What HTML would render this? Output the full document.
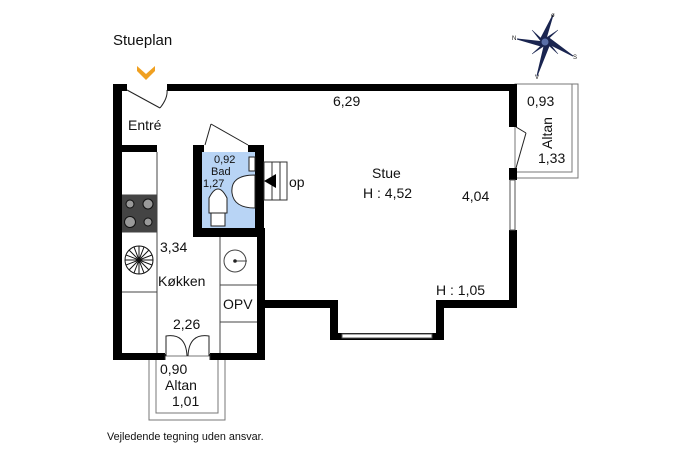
<!DOCTYPE html>
<html><head><meta charset="utf-8"><style>
html,body{margin:0;padding:0;background:#fff;}
svg{display:block;}
text{font-family:"Liberation Sans",Arial,sans-serif;fill:#111;}
</style></head><body>
<svg width="687" height="457" viewBox="0 0 687 457" xmlns="http://www.w3.org/2000/svg">
<rect x="515" y="84" width="63" height="94" fill="none" stroke="#777" stroke-width="1"/>
<rect x="515" y="84" width="57" height="88" fill="none" stroke="#777" stroke-width="1"/>
<rect x="149" y="356" width="76" height="64" fill="none" stroke="#777" stroke-width="1"/>
<rect x="156" y="356" width="62" height="57" fill="none" stroke="#777" stroke-width="1"/>
<rect x="201" y="152" width="54" height="76" fill="#b8d4f5"/>
<g fill="#000">
<rect x="113" y="84" width="9" height="276"/>
<rect x="113" y="84" width="14" height="7"/>
<rect x="167" y="84" width="350" height="7"/>
<rect x="509" y="84" width="8" height="43"/>
<rect x="509" y="168" width="8" height="12"/>
<rect x="509" y="230" width="8" height="78"/>
<rect x="436" y="300" width="81" height="8"/>
<rect x="436" y="300" width="8" height="40"/>
<rect x="330" y="333" width="114" height="7"/>
<rect x="330" y="300" width="8" height="40"/>
<rect x="257" y="300" width="81" height="8"/>
<rect x="257" y="228" width="8" height="132"/>
<rect x="113" y="353" width="52" height="7"/>
<rect x="210" y="353" width="55" height="7"/>
<rect x="121" y="145" width="36" height="7"/>
<rect x="193" y="145" width="9" height="92"/>
<rect x="255" y="145" width="9" height="92"/>
<rect x="193" y="228" width="71" height="9"/>
<rect x="193" y="145" width="11" height="7"/>
<rect x="248" y="145" width="16" height="7"/>
</g>
<rect x="510" y="180" width="5" height="50" fill="#fff" stroke="#555" stroke-width="1"/>
<rect x="342" y="334" width="90" height="4" fill="#fff" stroke="#555" stroke-width="1"/>
<g fill="none" stroke="#222" stroke-width="1">
<line x1="127" y1="90" x2="160" y2="108"/>
<path d="M160 108 Q168 98 167 90"/>
<line x1="205" y1="145" x2="211" y2="124"/>
<path d="M211 124 L248 145"/>
<line x1="516" y1="127" x2="526" y2="133"/>
<line x1="526" y1="133" x2="516" y2="168"/>
<path d="M166 356 V336 Q186 333 187 356"/>
<path d="M209 356 V336 Q189 333 188 356"/>
<line x1="165" y1="354" x2="165" y2="360"/>
<line x1="210" y1="354" x2="210" y2="360"/>
</g>
<g fill="none" stroke="#444" stroke-width="1">
<line x1="157" y1="152" x2="157" y2="353"/>
<line x1="122" y1="195" x2="157" y2="195"/>
<line x1="122" y1="232" x2="157" y2="232"/>
<line x1="122" y1="292" x2="157" y2="292"/>
<line x1="220" y1="237" x2="220" y2="353"/>
<line x1="220" y1="285" x2="257" y2="285"/>
<line x1="220" y1="322" x2="257" y2="322"/>
<circle cx="235" cy="261" r="11"/>
<line x1="235" y1="261" x2="247" y2="261"/>
</g>
<circle cx="235" cy="261" r="1.8" fill="#222"/>
<rect x="122" y="195" width="35" height="37" fill="#444"/>
<circle cx="130" cy="204" r="4" fill="#999" stroke="#111"/>
<circle cx="148" cy="204" r="5" fill="#999" stroke="#111"/>
<circle cx="130" cy="222" r="5.5" fill="#999" stroke="#111"/>
<circle cx="148" cy="222" r="4" fill="#999" stroke="#111"/>
<g stroke="#111" stroke-width="1" fill="none">
<circle cx="139" cy="260" r="14"/>
<line x1="125" y1="260" x2="153" y2="260"/><line x1="139" y1="246" x2="139" y2="274"/>
<line x1="129" y1="250" x2="149" y2="270"/><line x1="149" y1="250" x2="129" y2="270"/>
<line x1="134" y1="247" x2="144" y2="273"/><line x1="144" y1="247" x2="134" y2="273"/>
<line x1="126" y1="255" x2="152" y2="265"/><line x1="126" y1="265" x2="152" y2="255"/>
</g>
<g fill="#fff" stroke="#222" stroke-width="1">
<path d="M209 213 L209 198 Q218 180 227 198 L227 213 Z"/>
<rect x="211" y="213" width="14" height="13"/>
<path d="M255 175 Q230 175 232 193 Q234 208 255 208 Z"/>
<rect x="249" y="157" width="6" height="14"/>
</g>
<g fill="none" stroke="#333" stroke-width="1">
<rect x="264" y="162" width="23" height="38"/>
<line x1="272" y1="162" x2="272" y2="200"/>
<line x1="280" y1="162" x2="280" y2="200"/>
</g>
<polygon points="264,181 276,174 276,188" fill="#000"/>
<polygon points="137,66 146,74 155,66 155,71 146,80 137,71" fill="#f0a020"/>
<g stroke="#1a2550" fill="#1a2550">
<polygon points="517,39 545,42 541,46" /><polygon points="573,56 545,42 549,38"/>
<polygon points="553,15 545,42 541,38"/><polygon points="537,76 545,42 549,46"/>
<polygon points="532,30 545,42 543,44" stroke-width="0.5"/><polygon points="558,54 545,42 547,40" stroke-width="0.5"/>
<polygon points="558,30 545,42 543,40" stroke-width="0.5"/><polygon points="532,54 545,42 547,44" stroke-width="0.5"/>
<circle cx="545" cy="42" r="4" fill="#5a6fa8"/>
</g>
<g font-size="6">
<text x="551" y="17">ø</text><text x="512" y="40">N</text><text x="573" y="59">S</text><text x="535" y="79">V</text>
</g>
<text x="113" y="45" font-size="15">Stueplan</text>
<text x="333" y="106" font-size="14">6,29</text>
<text x="128" y="130" font-size="14">Entré</text>
<text x="372" y="178" font-size="14">Stue</text>
<text x="363" y="198" font-size="14">H : 4,52</text>
<text x="462" y="201" font-size="14">4,04</text>
<text x="436" y="295" font-size="14">H : 1,05</text>
<text x="160" y="252" font-size="14">3,34</text>
<text x="158" y="286" font-size="14">Køkken</text>
<text x="223" y="309" font-size="14">OPV</text>
<text x="173" y="329" font-size="14">2,26</text>
<text x="160" y="374" font-size="14">0,90</text>
<text x="165" y="390" font-size="14">Altan</text>
<text x="172" y="406" font-size="14">1,01</text>
<text x="527" y="106" font-size="14">0,93</text>
<text x="538" y="163" font-size="14">1,33</text>
<text transform="translate(552,149) rotate(-90)" font-size="14">Altan</text>
<text x="214" y="163" font-size="11">0,92</text>
<text x="211" y="175" font-size="11">Bad</text>
<text x="203" y="187" font-size="11">1,27</text>
<text x="289" y="187" font-size="14">op</text>
<text x="107" y="440" font-size="10.8">Vejledende tegning uden ansvar.</text>
</svg>
</body></html>
